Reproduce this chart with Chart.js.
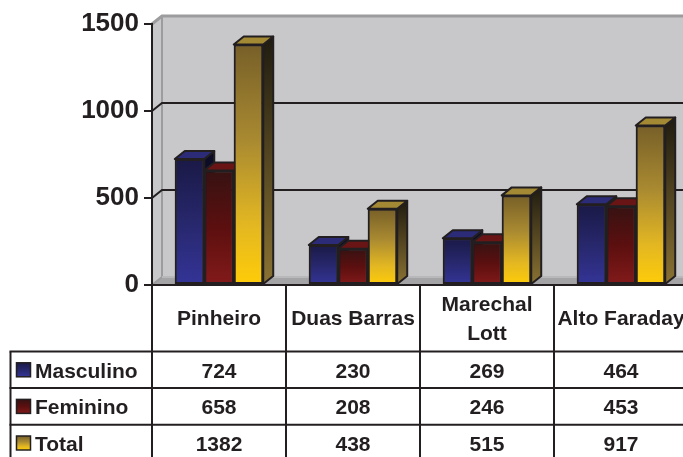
<!DOCTYPE html>
<html>
<head>
<meta charset="utf-8">
<title>Masculino / Feminino / Total</title>
<script src="https://cdn.jsdelivr.net/npm/chart.js@4.4.1/dist/chart.umd.min.js"></script>
<style>
  html, body { margin: 0; padding: 0; background: #fff; overflow: hidden; }
  #wrap { position: relative; width: 690px; height: 457px; }
</style>
</head>
<body>
<div id="wrap"><canvas id="chart"></canvas></div>
<script>
// Values per neighbourhood
const categories = ['Pinheiro', 'Duas Barras', ['Marechal', 'Lott'], 'Alto Faraday'];
const seriesNames = ['Masculino', 'Feminino', 'Total'];
const masculino = [724, 230, 269, 464];
const feminino = [658, 208, 246, 453];
const total = [1382, 438, 515, 917];
const yTicks = [0, 500, 1000, 1500];

const ink = '#231f20';
const fontFamily = '"Liberation Sans", Arial, sans-serif';
const DX = 10, DY = 8; // depth offset for the 3D look

// front gradient stops, top face colour, side gradient (top -> bottom)
const looks = [
  { front: [[0, '#1a1946'], [0.5, '#27276c'], [1, '#343498']], top: '#2b2b78', side: ['#0b0b24', '#1a1a50'] },
  { front: [[0, '#371212'], [0.5, '#5c0f0f'], [1, '#831a1a']], top: '#6a1515', side: ['#240707', '#4a0c0c'] },
  { front: [[0, '#775f28'], [0.4, '#a98a31'], [0.75, '#e3b722'], [1, '#ffcc08']], top: '#a38934', side: ['#1f1b10', '#8a7232'] }
];

function frontFill(d) {
  return (c) => {
    const chart = c.chart;
    if (!chart.chartArea || c.type !== 'data') return looks[d].front[1][1];
    const y = chart.scales.y;
    const top = y.getPixelForValue(c.raw);
    const base = y.getPixelForValue(0);
    const g = chart.ctx.createLinearGradient(0, top, 0, base);
    looks[d].front.forEach(([o, col]) => g.addColorStop(o, col));
    return g;
  };
}

function poly(ctx, pts, fill) {
  ctx.beginPath();
  pts.forEach(([px, py], k) => (k ? ctx.lineTo(px, py) : ctx.moveTo(px, py)));
  ctx.closePath();
  ctx.fillStyle = fill;
  ctx.fill();
  ctx.stroke();
}

function line(ctx, x1, y1, x2, y2) {
  ctx.beginPath();
  ctx.moveTo(x1, y1);
  ctx.lineTo(x2, y2);
  ctx.stroke();
}

const depth = {
  id: 'depth',
  // walls, floor and the gridlines on the back wall
  beforeDraw(chart) {
    const { ctx, chartArea: a, scales: { y } } = chart;
    ctx.save();
    ctx.fillStyle = '#c8c8ca';
    ctx.beginPath();
    ctx.moveTo(a.left, a.top);
    ctx.lineTo(a.left + DX, a.top - DY);
    ctx.lineTo(a.right + DX, a.top - DY);
    ctx.lineTo(a.right + DX, a.bottom - DY);
    ctx.lineTo(a.right, a.bottom);
    ctx.lineTo(a.left, a.bottom);
    ctx.closePath();
    ctx.fill();

    ctx.fillStyle = '#a4a4a6';
    ctx.beginPath();
    ctx.moveTo(a.left, a.bottom);
    ctx.lineTo(a.left + DX, a.bottom - DY);
    ctx.lineTo(a.right + DX, a.bottom - DY);
    ctx.lineTo(a.right, a.bottom);
    ctx.closePath();
    ctx.fill();

    ctx.strokeStyle = '#9c9c9e';
    ctx.lineWidth = 3;
    ctx.beginPath();
    ctx.moveTo(a.left, a.top);
    ctx.lineTo(a.left + DX, a.top - DY);
    ctx.lineTo(a.right + DX, a.top - DY);
    ctx.stroke();
    ctx.lineWidth = 2;
    line(ctx, a.left + DX, a.top - DY, a.left + DX, a.bottom - DY);
    line(ctx, a.left, a.bottom, a.left + DX, a.bottom - DY);
    ctx.strokeStyle = '#b8b8ba';
    line(ctx, a.left + DX, a.bottom - DY, a.right + DX, a.bottom - DY);

    ctx.strokeStyle = ink;
    ctx.lineWidth = 2;
    yTicks.slice(1, -1).forEach((v) => {
      const py = y.getPixelForValue(v);
      ctx.beginPath();
      ctx.moveTo(a.left, py);
      ctx.lineTo(a.left + DX, py - DY);
      ctx.lineTo(a.right + DX, py - DY);
      ctx.stroke();
    });
    ctx.restore();
  },
  // top and side faces, bars painted left to right so each covers its neighbour
  afterDatasetsDraw(chart) {
    const ctx = chart.ctx;
    const metas = chart.data.datasets.map((_, d) => chart.getDatasetMeta(d));
    ctx.save();
    ctx.lineJoin = 'round';
    ctx.lineWidth = 2;
    ctx.strokeStyle = ink;
    for (let i = 0; i < categories.length; i++) {
      metas.forEach((meta, d) => {
        const bar = meta.data[i];
        const { x, y, base, width } = bar.getProps(['x', 'y', 'base', 'width'], true);
        const x0 = x - width / 2, x1 = x + width / 2;
        const sg = ctx.createLinearGradient(0, y - DY, 0, base);
        sg.addColorStop(0, looks[d].side[0]);
        sg.addColorStop(1, looks[d].side[1]);
        poly(ctx, [[x1, y], [x1 + DX, y - DY], [x1 + DX, base - DY], [x1, base]], sg);
        poly(ctx, [[x0, y], [x0 + DX, y - DY], [x1 + DX, y - DY], [x1, y]], looks[d].top);
        bar.draw(ctx);
      });
    }
    ctx.restore();
  },
  // data table under the plot
  afterDraw(chart) {
    const { ctx, chartArea: a, scales: { x } } = chart;
    const W = chart.width, H = chart.height;
    const step = x.getPixelForValue(1) - x.getPixelForValue(0);
    const headBottom = a.bottom + 66.5;
    const rowH = 36.6;
    const series = [masculino, feminino, total];

    ctx.save();
    ctx.strokeStyle = ink;
    ctx.lineWidth = 2;
    line(ctx, a.left - 1, a.bottom, W, a.bottom);
    for (let i = 0; i <= categories.length; i++) {
      const bx = x.getPixelForValue(i) - step / 2;
      line(ctx, bx, a.bottom, bx, H);
    }
    line(ctx, 10.5, headBottom, 10.5, H);
    for (let r = 0; r < series.length; r++) {
      line(ctx, 9.5, headBottom + r * rowH, W, headBottom + r * rowH);
    }

    ctx.fillStyle = ink;
    ctx.font = 'bold 21px ' + fontFamily;
    ctx.textAlign = 'center';
    ctx.textBaseline = 'alphabetic';
    categories.forEach((lab, i) => {
      const cx = x.getPixelForValue(i);
      const lines = Array.isArray(lab) ? lab : [lab];
      const mid = (a.bottom + headBottom) / 2;
      lines.forEach((t, k) => {
        const ty = mid + 7 + (k - (lines.length - 1) / 2) * 29;
        ctx.fillText(t, cx, ty);
      });
    });

    series.forEach((vals, r) => {
      const cy = headBottom + r * rowH + rowH / 2;
      ctx.textAlign = 'center';
      ctx.fillStyle = ink;
      vals.forEach((v, i) => ctx.fillText(String(v), x.getPixelForValue(i), cy + 8));

      // legend key
      const g = ctx.createLinearGradient(0, cy - 7, 0, cy + 7);
      looks[r].front.forEach(([o, col]) => g.addColorStop(o, col));
      ctx.fillStyle = g;
      ctx.fillRect(16.5, cy - 7, 14, 14);
      ctx.lineWidth = 1.5;
      ctx.strokeRect(16.5, cy - 7, 14, 14);
      ctx.lineWidth = 2;
      ctx.fillStyle = ink;
      ctx.textAlign = 'left';
      ctx.fillText(seriesNames[r], 35, cy + 8);
    });
    ctx.restore();
  }
};

new Chart(document.getElementById('chart'), {
  type: 'bar',
  data: {
    labels: categories,
    datasets: [
      { label: seriesNames[0], data: masculino, backgroundColor: frontFill(0) },
      { label: seriesNames[1], data: feminino, backgroundColor: frontFill(1) },
      { label: seriesNames[2], data: total, backgroundColor: frontFill(2) }
    ]
  },
  options: {
    responsive: true,
    maintainAspectRatio: false,
    animation: false,
    layout: { padding: { top: 24, bottom: 172, left: 0, right: 2 } },
    datasets: {
      bar: {
        categoryPercentage: 0.66,
        barPercentage: 1,
        borderColor: ink,
        borderWidth: 2,
        borderSkipped: false
      }
    },
    plugins: { legend: { display: false }, tooltip: { enabled: false } },
    scales: {
      x: { display: false },
      y: {
        min: 0,
        max: 1500,
        afterFit(scale) { scale.width = 152; },
        afterBuildTicks(scale) { scale.ticks = yTicks.map((v) => ({ value: v })); },
        ticks: {
          color: ink,
          padding: 5,
          font: { family: fontFamily, size: 26, weight: 'bold' },
          callback: (v) => String(v)
        },
        grid: { drawOnChartArea: false, tickLength: 8, color: ink, lineWidth: 2 },
        border: { color: ink, width: 2 }
      }
    }
  },
  plugins: [depth]
});
</script>
</body>
</html>
